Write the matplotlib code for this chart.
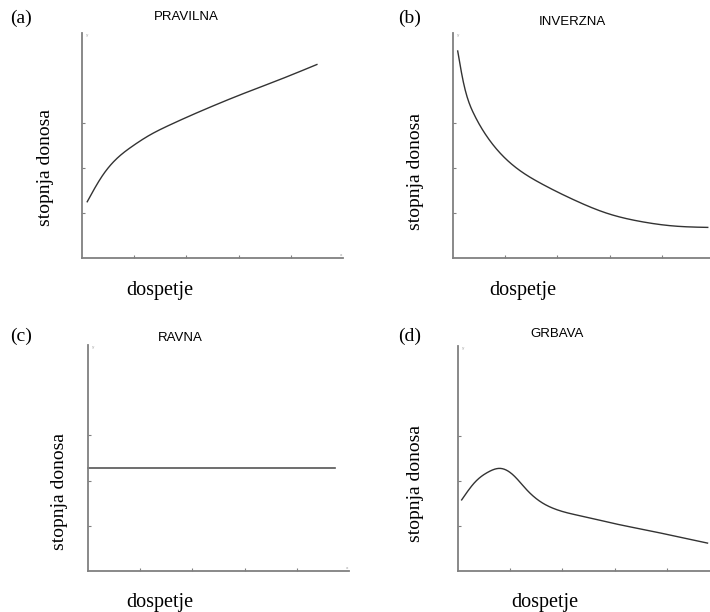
import numpy as np
import matplotlib
matplotlib.use("Agg")
import matplotlib.pyplot as plt

# naslovi panela
oznake = ["(a)", "(b)", "(c)", "(d)"]
naslovi = ["PRAVILNA", "INVERZNA", "RAVNA", "GRBAVA"]

# očitane točke krivulja (dospijeće, stopa)
a_x = [0.1, 0.38, 0.64, 0.96, 1.28, 1.67, 2.05, 2.47, 3.04, 3.8, 4.5]
a_y = [1.25, 1.81, 2.18, 2.48, 2.72, 2.95, 3.15, 3.36, 3.63, 3.97, 4.3]

b_x = [0.09, 0.2, 0.4, 0.65, 0.97, 1.36, 1.68, 2.32, 2.96, 3.6, 4.24, 4.88]
b_y = [4.6, 3.9, 3.2, 2.70, 2.25, 1.88, 1.66, 1.29, 0.99, 0.81, 0.71, 0.68]

c_x = [0.0, 4.73]
c_y = [2.27, 2.27]

d_x = [0.07, 0.33, 0.58, 0.81, 1.06, 1.32, 1.58, 1.83, 2.41, 3.05, 3.69, 4.33, 4.78]
d_y = [1.58, 1.98, 2.2, 2.28, 2.13, 1.80, 1.54, 1.39, 1.21, 1.04, 0.89, 0.73, 0.62]

krivulje = [(a_x, a_y), (b_x, b_y), (c_x, c_y), (d_x, d_y)]

# položaji u pikselima: lijevo, dno osi, vrh osi
W, H = 710, 612
pozicije = [(82, 258, 33), (453, 258, 33), (88, 571, 345), (458, 571, 346)]
naslov_xy = [(186, 17), (572, 22), (180, 338), (557, 334)]
oznaka_xy = [(10, 18), (398, 18), (10, 336), (398, 336)]
ylab_xy = [(45, 168), (415, 172), (60, 492), (415, 483)]
xlab_xy = [(160, 290), (523, 290), (160, 603), (545, 603)]

serif = ["Liberation Serif", "DejaVu Serif"]
sans = ["Liberation Sans", "DejaVu Sans"]


def spline(x, y, t):
    # prirodni kubni splajn kroz očitane točke
    n = len(x)
    h = np.diff(x)
    A = np.zeros((n, n))
    r = np.zeros(n)
    A[0, 0] = 1
    A[-1, -1] = 1
    for k in range(1, n - 1):
        A[k, k - 1] = h[k - 1]
        A[k, k] = 2 * (h[k - 1] + h[k])
        A[k, k + 1] = h[k]
        r[k] = 6 * ((y[k + 1] - y[k]) / h[k] - (y[k] - y[k - 1]) / h[k - 1])
    M = np.linalg.solve(A, r)
    idx = np.clip(np.searchsorted(x, t) - 1, 0, n - 2)
    hi = h[idx]
    a = x[idx + 1] - t
    b = t - x[idx]
    return (M[idx] * a**3 / (6 * hi) + M[idx + 1] * b**3 / (6 * hi)
            + (y[idx] / hi - M[idx] * hi / 6) * a
            + (y[idx + 1] / hi - M[idx + 1] * hi / 6) * b)


fig = plt.figure(figsize=(7.1, 6.12), dpi=100)

for i in range(4):
    lijevo, dno, vrh = pozicije[i]
    ax = fig.add_axes([lijevo / W, 1 - dno / H, 261 / W, (dno - vrh) / H])
    ax.set_xlim(0, 5)
    ax.set_ylim(0, 5)
    x = np.array(krivulje[i][0], dtype=float)
    y = np.array(krivulje[i][1], dtype=float)
    if len(x) > 2:
        t = np.linspace(x[0], x[-1], 400)
        ax.plot(t, spline(x, y, t), color="#333333", lw=1.0, clip_on=False)
    else:
        ax.plot(x, y, color="#555555", lw=1.2, clip_on=False)

    for s in ["top", "right"]:
        ax.spines[s].set_visible(False)
    for s in ["left", "bottom"]:
        ax.spines[s].set_color("#808080")
        ax.spines[s].set_linewidth(1.3)
    ax.set_xticks([1, 2, 3, 4])
    ax.set_yticks([1, 2, 3])
    ax.tick_params(direction="in", length=2.5, width=0.8, color="#808080",
                   labelbottom=False, labelleft=False)
    ax.text(0.08, 5.0, "y", fontsize=3, color="#999999", va="top")
    if i % 2 == 0:
        ax.text(4.98, 0.05, "x", fontsize=3, color="#999999", ha="right")

    fig.text(naslov_xy[i][0] / W, 1 - naslov_xy[i][1] / H, naslovi[i],
             family=sans, fontsize=9.5, ha="center", va="center")
    fig.text(oznaka_xy[i][0] / W, 1 - oznaka_xy[i][1] / H, oznake[i],
             family=serif, fontsize=14, ha="left", va="center")
    fig.text(ylab_xy[i][0] / W, 1 - ylab_xy[i][1] / H, "stopnja donosa",
             family=serif, fontsize=14, rotation=90, ha="center", va="center")
    fig.text(xlab_xy[i][0] / W, 1 - xlab_xy[i][1] / H, "dospetje",
             family=serif, fontsize=14.5, ha="center", va="center")

fig.savefig("out.png", dpi=100)
